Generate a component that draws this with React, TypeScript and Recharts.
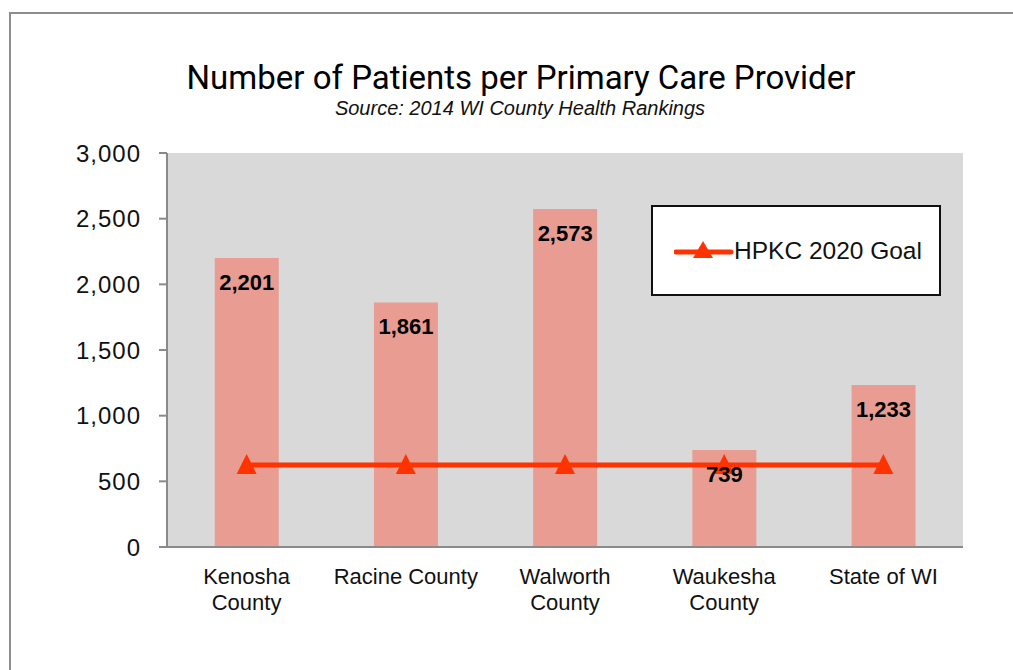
import {
  Bar,
  CartesianGrid,
  ComposedChart,
  LabelList,
  Legend,
  Line,
  XAxis,
  YAxis,
} from "recharts";

const categories = ["Kenosha\nCounty", "Racine County", "Walworth\nCounty", "Waukesha\nCounty", "State of WI"];
const patients = [2201, 1861, 2573, 739, 1233];
const goal = [625, 625, 625, 625, 625];
const yTicks = [0, 500, 1000, 1500, 2000, 2500, 3000];

const chartData = categories.map((name, i) => ({
  name,
  patients: patients[i],
  goal: goal[i],
}));

const LINE_COLOR = "#FF3300";
const BAR_COLOR = "#E89C92";
const AXIS_COLOR = "#8A8A8A";
const FONT = "'Liberation Sans', Arial, sans-serif";

const fmt = (v: number) => v.toLocaleString("en-US");

function Triangle(props: any) {
  const { cx, cy } = props;
  if (cx == null || cy == null) return null;
  return (
    <polygon
      points={`${cx},${cy - 11} ${cx + 10},${cy + 9} ${cx - 10},${cy + 9}`}
      fill={LINE_COLOR}
    />
  );
}

function CategoryTick({ x, y, payload }: any) {
  const lines = String(payload.value).split("\n");
  return (
    <text x={x} y={y} textAnchor="middle" fontSize={22} fill="#111" fontFamily={FONT}>
      {lines.map((line, i) => (
        <tspan key={i} x={x} dy={i === 0 ? 37 : 26}>
          {line}
        </tspan>
      ))}
    </text>
  );
}

function GoalLegend() {
  return (
    <div
      style={{
        boxSizing: "border-box",
        width: 290,
        height: 91,
        border: "2px solid #111",
        background: "#fff",
        position: "relative",
        fontFamily: FONT,
      }}
    >
      <svg width={60} height={30} style={{ position: "absolute", left: 21, top: 29 }}>
        <line x1={2} y1={16} x2={57} y2={16} stroke={LINE_COLOR} strokeWidth={5} strokeLinecap="round" />
        <polygon points="29,5 39,22 19,22" fill={LINE_COLOR} />
      </svg>
      <span
        style={{
          position: "absolute",
          left: 81,
          top: 29,
          fontSize: 24.5,
          lineHeight: "30px",
          color: "#111",
          whiteSpace: "nowrap",
        }}
      >
        HPKC 2020 Goal
      </span>
    </div>
  );
}

export default function App() {
  return (
    <div
      style={{
        position: "fixed",
        left: 0,
        top: 0,
        width: 1013,
        height: 670,
        overflow: "hidden",
        background: "#fff",
        fontFamily: FONT,
      }}
    >
      <div
        style={{
          position: "absolute",
          left: 9,
          top: 12,
          width: 1100,
          height: 800,
          border: "2px solid #8E8E8E",
        }}
      />
      <div
        style={{
          position: "absolute",
          left: 0,
          width: 1042,
          top: 58,
          textAlign: "center",
          fontFamily: "Roboto, sans-serif",
          fontWeight: 400,
          fontSize: 33,
          lineHeight: "40px",
          color: "#000",
        }}
      >
        Number of Patients per Primary Care Provider
      </div>
      <div
        style={{
          position: "absolute",
          left: 0,
          width: 1040,
          top: 97,
          textAlign: "center",
          fontStyle: "italic",
          fontSize: 20,
          lineHeight: "22px",
          color: "#111",
        }}
      >
        Source: 2014 WI County Health Rankings
      </div>
      <div style={{ position: "absolute", left: 0, top: 0 }}>
        <ComposedChart
          width={1013}
          height={670}
          data={chartData}
          margin={{ top: 153, right: 50, bottom: 0, left: 0 }}
          barCategoryGap="30%"
        >
          <CartesianGrid horizontal={false} vertical={false} fill="#D9D9D9" />
          <XAxis
            dataKey="name"
            height={123}
            tickLine={false}
            tickSize={0}
            tickMargin={0}
            interval={0}
            axisLine={{ stroke: AXIS_COLOR, strokeWidth: 2 }}
            tick={<CategoryTick />}
          />
          <YAxis
            width={167}
            domain={[0, 3000]}
            ticks={yTicks}
            tickFormatter={fmt}
            tickSize={8}
            tickMargin={18}
            axisLine={{ stroke: AXIS_COLOR, strokeWidth: 2 }}
            tickLine={{ stroke: AXIS_COLOR, strokeWidth: 2 }}
            tick={{ fontSize: 24, fill: "#111", fontFamily: FONT, letterSpacing: 1 }}
          />
          <Legend
            verticalAlign="middle"
            align="center"
            layout="horizontal"
            content={() => <GoalLegend />}
            wrapperStyle={{ left: 651, top: 205, width: 290, height: 91 }}
          />
          <Bar dataKey="patients" fill={BAR_COLOR} isAnimationActive={false} name="Patients">
            <LabelList
              dataKey="patients"
              position="insideTop"
              offset={16}
              formatter={(v: any) => fmt(Number(v))}
              style={{ fontSize: 22, fontWeight: 700, fill: "#000", fontFamily: FONT }}
            />
          </Bar>
          <Line
            dataKey="goal"
            stroke={LINE_COLOR}
            strokeWidth={5}
            dot={<Triangle />}
            activeDot={false}
            isAnimationActive={false}
            name="HPKC 2020 Goal"
          />
        </ComposedChart>
      </div>
    </div>
  );
}
